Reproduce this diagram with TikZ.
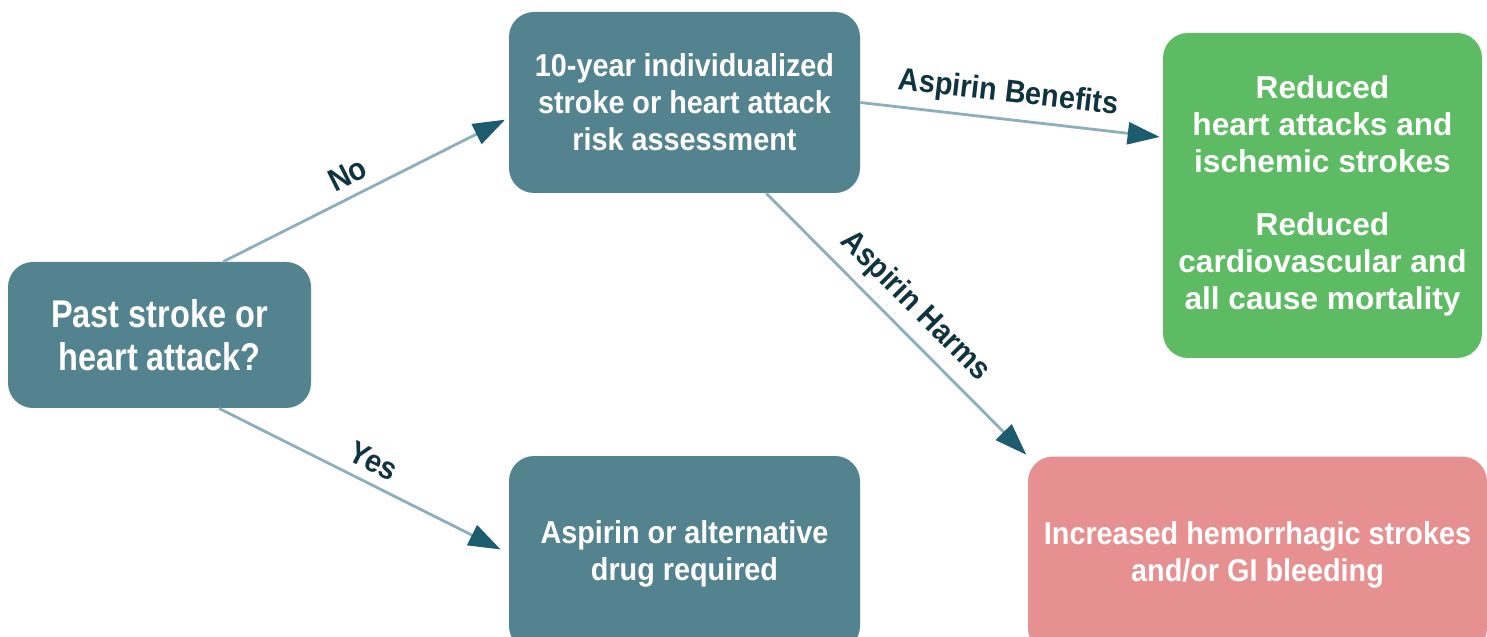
\documentclass[tikz,border=0pt]{standalone}
\usepackage{fontspec}
\setmainfont{Liberation Sans}[FakeStretch=0.91]
\newfontfamily\pastfont{Liberation Sans}[FakeStretch=0.84]
\newfontfamily\greenfont{Liberation Sans}
\usetikzlibrary{arrows.meta}

\definecolor{boxteal}{HTML}{53838F}
\definecolor{linegray}{HTML}{8EAEBB}
\definecolor{tipteal}{HTML}{1D5B6E}
\definecolor{labeldark}{HTML}{10343F}
\definecolor{benefitgreen}{HTML}{5DBB63}
\definecolor{harmpink}{HTML}{E69091}

\tikzset{
  box/.style={rounded corners=0.5cm, text=white, align=center,
    font=\bfseries\fontsize{18}{21}\selectfont, inner sep=0pt},
  flow/.style={draw=linegray, line width=1.6pt,
    -{Triangle[length=0.64cm, width=0.44cm, color=tipteal]}},
  lbl/.style={sloped, above=2pt, text=labeldark,
    font=\bfseries\fontsize{18}{20}\selectfont}
}

\begin{document}
\begin{tikzpicture}
  \useasboundingbox (0,0) rectangle (29.74,-12.74);

  % Question box on the left
  \node[box, fill=boxteal, minimum width=6.06cm, minimum height=2.92cm,
    font=\pastfont\bfseries\fontsize{22}{24.4}\selectfont]
    (past) at (3.19,-6.70) {Past stroke or\\heart attack?};

  % Middle column
  \node[box, fill=boxteal, minimum width=7.02cm, minimum height=3.62cm]
    (risk) at (13.69,-2.05) {10-year individualized\\stroke or heart attack\\risk assessment};
  \node[box, fill=boxteal, minimum width=7.02cm, minimum height=3.90cm]
    (drug) at (13.69,-11.07) {Aspirin or alternative\\drug required};

  % Outcomes on the right
  \node[box, fill=benefitgreen, minimum width=6.38cm, minimum height=6.50cm,
    font=\greenfont\bfseries\fontsize{18}{21}\selectfont]
    (benefit) at (26.45,-3.91)
    {Reduced\\heart attacks and\\ischemic strokes\\[15pt]Reduced\\cardiovascular and\\all cause mortality};
  \node[box, fill=harmpink, minimum width=9.18cm, minimum height=3.94cm]
    (harm) at (25.15,-11.10) {Increased hemorrhagic strokes\\and/or GI bleeding};

  % Connectors
  \draw[flow, shorten >=0.08cm] (past.49) -- node[lbl, pos=0.47] {No} (risk.185);
  \draw[flow, shorten >=0.18cm] (past.309) -- node[lbl, pos=0.50] {Yes} (drug.west);
  \draw[flow, shorten >=0.06cm] (risk.east) -- node[lbl, pos=0.48] {Aspirin Benefits} (benefit.160);
  \draw[flow, shorten >=0.04cm] (risk.-48) -- node[lbl, pos=0.50] {Aspirin Harms} (harm.north west);
\end{tikzpicture}
\end{document}
